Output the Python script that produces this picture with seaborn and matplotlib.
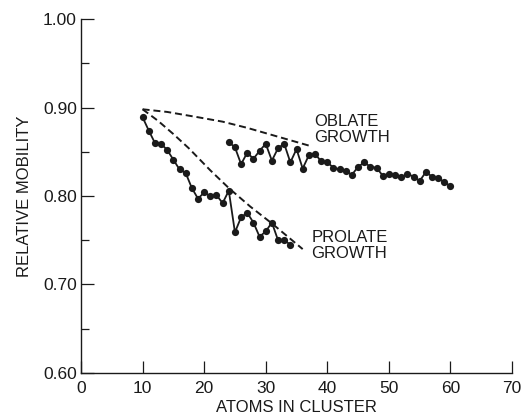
import matplotlib
matplotlib.use("Agg")
import matplotlib.pyplot as plt
from matplotlib.ticker import MultipleLocator
import seaborn as sns
import pandas as pd

# ---- data ----
prolate_atoms = list(range(10, 35))
prolate_mobility = [0.889, 0.874, 0.860, 0.859, 0.852, 0.841, 0.830, 0.826, 0.809,
                    0.797, 0.804, 0.800, 0.801, 0.792, 0.806, 0.759, 0.776, 0.781,
                    0.770, 0.754, 0.760, 0.770, 0.750, 0.750, 0.745]

oblate_atoms = list(range(24, 61))
oblate_mobility = [0.861, 0.855, 0.836, 0.849, 0.842, 0.851, 0.859, 0.840, 0.854,
                   0.859, 0.838, 0.853, 0.831, 0.846, 0.848, 0.839, 0.838, 0.832,
                   0.830, 0.828, 0.824, 0.833, 0.838, 0.833, 0.832, 0.823, 0.825,
                   0.824, 0.821, 0.825, 0.822, 0.817, 0.827, 0.822, 0.820, 0.816,
                   0.811]

oblate_curve_atoms = [10, 14, 19, 23, 27, 31, 34, 37]
oblate_curve_mobility = [0.898, 0.895, 0.889, 0.884, 0.877, 0.869, 0.863, 0.857]

prolate_curve_atoms = [10, 12.5, 15, 17.5, 21, 24, 27.5, 31, 36]
prolate_curve_mobility = [0.898, 0.885, 0.870, 0.854, 0.829, 0.809, 0.788, 0.769, 0.740]

x_ticks = [0, 10, 20, 30, 40, 50, 60, 70]
y_ticks = [0.60, 0.70, 0.80, 0.90, 1.00]
y_tick_labels = ["0.60", "0.70", "0.80", "0.90", "1.00"]

labels = {"oblate": "OBLATE\nGROWTH", "prolate": "PROLATE\nGROWTH"}
x_label = "ATOMS IN CLUSTER"
y_label = "RELATIVE MOBILITY"

# ---- style ----
sns.set_style("ticks")
plt.rcParams["font.family"] = ["Liberation Sans", "DejaVu Sans"]
ink = "#1a1a1a"

fig = plt.figure(figsize=(5.23, 4.18), dpi=100)
ax = fig.add_axes([0.1549, 0.1077, 0.979 - 0.1549, 0.9545 - 0.1077])

df_pro = pd.DataFrame({"atoms": prolate_atoms, "mob": prolate_mobility})
df_obl = pd.DataFrame({"atoms": oblate_atoms, "mob": oblate_mobility})
df_pc = pd.DataFrame({"atoms": prolate_curve_atoms, "mob": prolate_curve_mobility})
df_oc = pd.DataFrame({"atoms": oblate_curve_atoms, "mob": oblate_curve_mobility})

dash = (0, (3.6, 2.0))
sns.lineplot(data=df_oc, x="atoms", y="mob", ax=ax, color=ink, linewidth=1.4,
             linestyle=dash, sort=True)
sns.lineplot(data=df_pc, x="atoms", y="mob", ax=ax, color=ink, linewidth=1.4,
             linestyle=dash, sort=True)
for d in (df_pro, df_obl):
    sns.lineplot(data=d, x="atoms", y="mob", ax=ax, color=ink, linewidth=1.3,
                 marker="o", markersize=5.2, markeredgewidth=0, sort=True)

ax.text(37.9, 0.858, labels["oblate"], fontsize=12, color=ink, ha="left",
        va="bottom", linespacing=1.05)
ax.text(37.4, 0.727, labels["prolate"], fontsize=12, color=ink, ha="left",
        va="bottom", linespacing=1.05)

ax.set_xlim(0, 70)
ax.set_ylim(0.60, 1.00)
ax.set_xticks(x_ticks)
ax.set_yticks(y_ticks)
ax.set_yticklabels(y_tick_labels)
ax.yaxis.set_minor_locator(MultipleLocator(0.05))
ax.tick_params(axis="both", which="major", direction="in", length=9, width=0.9,
               colors=ink, labelsize=12.5)
ax.tick_params(axis="y", which="minor", direction="in", length=6, width=0.9, colors=ink)
ax.tick_params(axis="x", pad=6)
ax.tick_params(axis="y", pad=3)

ax.set_xlabel(x_label, fontsize=12, color=ink, labelpad=3)
ax.set_ylabel(y_label, fontsize=12, color=ink, labelpad=8)

for s in ("top", "right"):
    ax.spines[s].set_visible(False)
for s in ("left", "bottom"):
    ax.spines[s].set_color(ink)
    ax.spines[s].set_linewidth(1.0)

fig.savefig("out.png", dpi=100)
